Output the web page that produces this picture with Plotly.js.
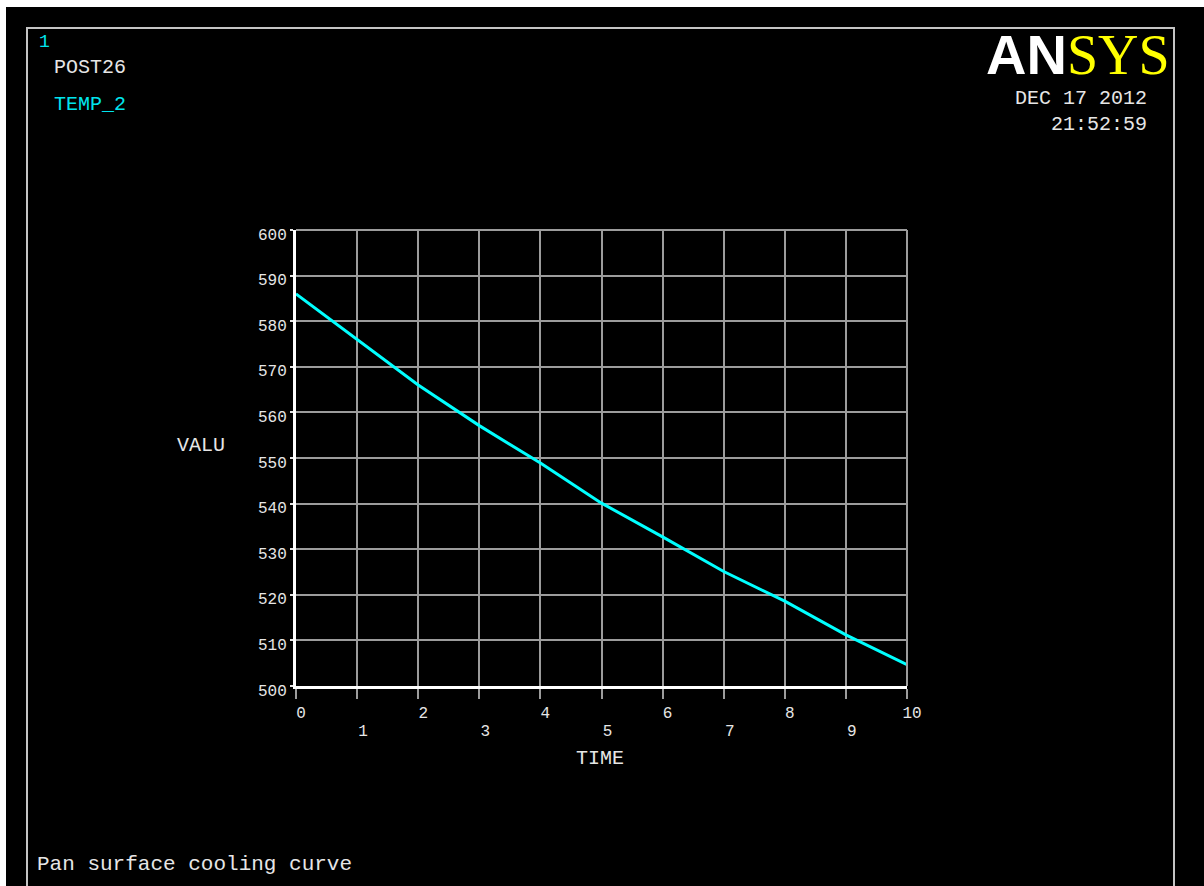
<!DOCTYPE html>
<html>
<head>
<meta charset="utf-8">
<script src="https://cdn.plot.ly/plotly-3.0.1.min.js"></script>
<style>
  html, body { margin: 0; padding: 0; background: #ffffff; width: 1204px; height: 886px; overflow: hidden; }
  #chart { position: absolute; left: 6px; top: 7px; width: 1198px; height: 879px; }
</style>
</head>
<body>
<div id="chart"></div>
<script>
// ---- data ----
const timeValues = [0, 1, 2, 3, 4, 5, 6, 7, 8, 9, 10];
const tempValues = [586.0, 576.1, 566.0, 557.1, 548.9, 540.1, 532.7, 525.1, 518.6, 511.2, 504.7];
const xTickVals = [0, 1, 2, 3, 4, 5, 6, 7, 8, 9, 10];
const xTickEven = ['0', '', '2', '', '4', '', '6', '', '8', '', '10'];
const xTickOddVals = [1, 3, 5, 7, 9];
const xTickOddText = ['1', '3', '5', '7', '9'];
const yTickVals = [500, 510, 520, 530, 540, 550, 560, 570, 580, 590, 600];
const yTickText = ['500', '510', '520', '530', '540', '550', '560', '570', '580', '590', '600'];
const xRange = [0, 10];
const yRange = [500, 600];

// ---- geometry ----
const W = 1198, H = 879, OX = 6, OY = 7;
const ML = 290, MR = 297, MT = 223, MB = 200;
const PW = W - ML - MR, PH = H - MT - MB;
function px(X) { return (X - OX - ML) / PW; }
function py(Y) { return 1 - (Y - OY - MT) / PH; }

const MONO = 'Liberation Mono, Courier New, monospace';
const WHITE = '#e6e6e6';
const CYAN = '#00e5ee';

function txt(text, X, Y, opts) {
  return Object.assign({
    text: text, xref: 'paper', yref: 'paper', x: px(X), y: py(Y),
    xanchor: 'left', yanchor: 'middle', showarrow: false,
    font: { family: MONO, size: 20, color: WHITE }
  }, opts || {});
}

const trace = {
  x: timeValues, y: tempValues, type: 'scatter', mode: 'lines',
  line: { color: '#00ffff', width: 3 }, hoverinfo: 'skip', showlegend: false
};
// empty helper trace so the overlaid odd-label axis is drawn
const oddAxisTrace = {
  x: xRange, y: [null, null], xaxis: 'x2', yaxis: 'y', type: 'scatter', mode: 'lines',
  hoverinfo: 'skip', showlegend: false
};

const gridCol = '#9c9c9c';

const layout = {
  width: W, height: H,
  margin: { l: ML, r: MR, t: MT, b: MB, pad: 0 },
  paper_bgcolor: '#000000', plot_bgcolor: '#000000',
  showlegend: false,
  xaxis: {
    range: xRange, tickmode: 'array', tickvals: xTickVals, ticktext: xTickEven,
    showgrid: true, gridcolor: gridCol, gridwidth: 2, zeroline: false,
    showline: true, linecolor: '#ffffff', linewidth: 3,
    ticks: 'outside', ticklen: 10, tickwidth: 2, tickcolor: gridCol,
    tickfont: { family: MONO, size: 16, color: WHITE },
    ticklabelstandoff: 0, ticklabelshift: 5, fixedrange: true
  },
  xaxis2: {
    range: xRange, overlaying: 'x', side: 'bottom', anchor: 'y',
    tickmode: 'array', tickvals: xTickOddVals, ticktext: xTickOddText,
    showgrid: false, zeroline: false, showline: false, ticks: '',
    tickfont: { family: MONO, size: 16, color: WHITE },
    ticklabelstandoff: 33, ticklabelshift: 6, fixedrange: true
  },
  yaxis: {
    range: yRange, tickmode: 'array', tickvals: yTickVals, ticktext: yTickText,
    showgrid: true, gridcolor: gridCol, gridwidth: 2, zeroline: false,
    showline: true, linecolor: '#ffffff', linewidth: 3,
    ticks: 'outside', ticklen: 3, tickwidth: 2, tickcolor: WHITE,
    tickfont: { family: MONO, size: 16, color: WHITE },
    ticklabelstandoff: 0, ticklabelshift: 4, fixedrange: true
  },
  shapes: [
    { type: 'rect', xref: 'paper', yref: 'paper', x0: px(27), x1: px(1174), y0: py(900), y1: py(28),
      line: { color: '#c4c4c4', width: 2 }, layer: 'below' },
    { type: 'line', xref: 'paper', yref: 'paper', x0: 0, x1: 1, y0: 1, y1: 1, line: { color: gridCol, width: 2 } },
    { type: 'line', xref: 'paper', yref: 'paper', x0: 1, x1: 1, y0: 0, y1: 1, line: { color: gridCol, width: 2 } }
  ],
  annotations: [
    txt('1', 37, 42, { font: { family: MONO, size: 18, color: CYAN } }),
    txt('POST26', 52, 67),
    txt('TEMP_2', 52, 105, { font: { family: MONO, size: 20, color: CYAN } }),
    txt('<b>AN</b><span style="font-family:Liberation Serif;color:#ffff00">SYS</span>', 1172, 54,
      { xanchor: 'right', font: { family: 'Liberation Sans, Arial, sans-serif', size: 56, color: '#ffffff' } }),
    txt('DEC 17 2012', 1149, 98, { xanchor: 'right' }),
    txt('21:52:59', 1149, 124, { xanchor: 'right' }),
    txt('VALU', 175, 445),
    txt('TIME', 574, 758),
    txt('Pan surface cooling curve', 35, 864, { font: { family: MONO, size: 21, color: WHITE } })
  ]
};

Plotly.newPlot('chart', [trace, oddAxisTrace], layout, { displayModeBar: false, staticPlot: true });
</script>
</body>
</html>
